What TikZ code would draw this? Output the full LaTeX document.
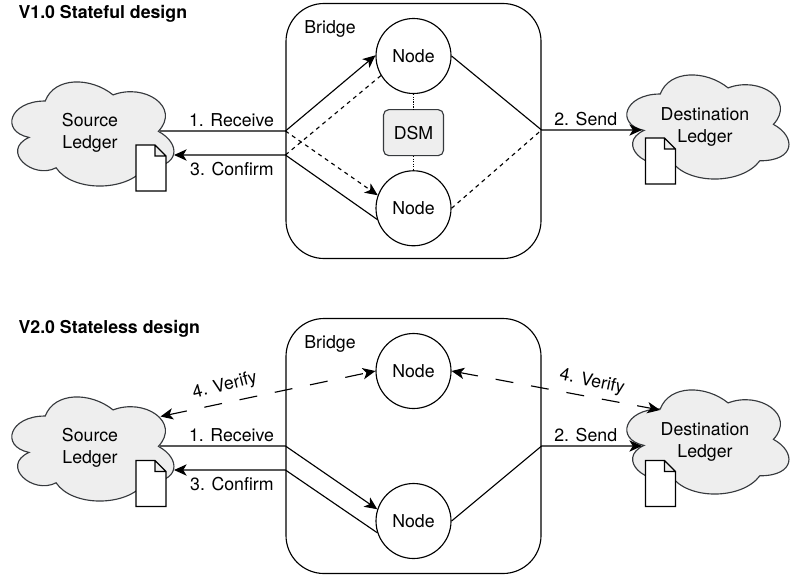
\documentclass[tikz,border=0pt]{standalone}
\usepackage{fontspec}
\setmainfont{TeX Gyre Heros}
\usepackage{xcolor}
\usetikzlibrary{positioning,arrows.meta,calc}
\definecolor{ledgerfill}{HTML}{EEEEEE}
\definecolor{ledgerline}{HTML}{36393D}
\newcommand{\ledgercloud}[2]{%
  \draw[cloudline, shift={(#1,#2)}] (45.25,30.4)
    .. controls (9.05,30.4) and (0,60.75) .. (29,66.8)
    .. controls (0,80.2) and (32.6,109.4) .. (56.1,97.2)
    .. controls (72.4,121.5) and (126.7,121.5) .. (144.8,97.2)
    .. controls (181,97.2) and (181,72.9) .. (158.4,60.75)
    .. controls (181,36.5) and (144.8,12.2) .. (113.1,24.3)
    .. controls (90.5,6.1) and (54.3,6.1) .. (45.25,30.4) -- cycle;}
\newcommand{\ledgerdoc}[2]{%
  \draw[docline, shift={(#1,#2)}] (0,0) -- (19,0) -- (30,11) -- (30,46) -- (0,46) -- cycle
    (19,0) -- (19,11) -- (30,11);}

\begin{document}
\begin{tikzpicture}[
  x=0.75pt, y=-0.75pt,
  font=\fontsize{13.3}{16.5}\selectfont,
  line width=0.85pt,
  cloudline/.style={draw=ledgerline, fill=ledgerfill},
  docline/.style={draw=black, fill=white, line join=miter},
  bridgebox/.style={draw, rounded corners=28.5pt, minimum width=191.25pt, minimum height=191.25pt},
  nodecirc/.style={draw, circle, fill=white, minimum size=56.25pt, inner sep=0pt},
  dsmbox/.style={draw=ledgerline, fill=ledgerfill, rounded corners=4pt, minimum width=45pt, minimum height=34.5pt, inner sep=0pt},
  lbl/.style={align=center, inner sep=0pt},
  title/.style={font=\fontsize{13.3}{16.5}\selectfont\bfseries, anchor=west, inner sep=0pt},
  arr/.style={-{Stealth[length=9.5pt, width=8.5pt, inset=2.6pt]}},
  dasharr/.style={arr, dash pattern=on 3pt off 3pt},
  dashln/.style={dash pattern=on 3pt off 3pt},
  verifyarr/.style={{Stealth[length=9.5pt, width=8.5pt, inset=2.6pt]}-{Stealth[length=9.5pt, width=8.5pt, inset=2.6pt]}, dash pattern=on 13.5pt off 13.5pt}
]
\useasboundingbox (0,0) rectangle (798,575);

\node[title] (titlea) at (18,14) {V1.0 Stateful design};
\ledgercloud{0}{70.6}
\ledgercloud{615}{63.6}
\node[bridgebox] (bridgea) at (413.5,131) {};
\node[lbl] (bridgelbla) at (330,28.5) {Bridge};
\node[nodecirc] (na) at (413.5,56) {Node};
\node[dsmbox, below=11.25pt of na] (dsm) {DSM};
\node[nodecirc, below=10.5pt of dsm] (nb) {Node};
\node[lbl] (srca) at (90,133) {Source\\Ledger};
\node[lbl] (dsta) at (705,127) {Destination\\Ledger};
\ledgerdoc{136}{145}
\ledgerdoc{645.5}{138}

\coordinate (srcouta) at (160,131);
\coordinate (srcina) at (174,155);
\coordinate (dstina) at (642,130);
\coordinate (recva) at (bridgea.west |- srcouta);
\coordinate (confa) at (bridgea.west |- srcina);
\coordinate (senda) at (bridgea.east |- dstina);

\draw[densely dotted] (na) -- (dsm);
\draw[densely dotted] (dsm) -- (nb);
\draw[arr] (srcouta) -- (recva) -- (na.179);
\draw[dasharr] (recva) -- (nb.160);
\draw[arr] (nb.197) -- (confa) -- (srcina);
\draw[dashln] (na.211) -- (confa);
\draw[arr] (na.east) -- (senda) -- (dstina);
\draw[dashln] (nb.east) -- (senda);
\node[lbl, above=2.8pt of $(srcouta)!0.57!(recva)$] (recvlbla) {1. Receive};
\node[lbl, below=5pt of $(srcina)!0.52!(confa)$] (conflbla) {3. Confirm};
\node[lbl, above=2.8pt of $(senda)!0.44!(dstina)$] (sendlbla) {2. Send};

\node[title] (titleb) at (18,329) {V2.0 Stateless design};
\ledgercloud{0}{385.6}
\ledgercloud{615}{378.6}
\node[bridgebox] (bridgeb) at (413.5,446) {};
\node[lbl] (bridgelblb) at (330,343.5) {Bridge};
\node[nodecirc] (nc) at (413.5,371) {Node};
\node[nodecirc] (nd) at (413.5,521) {Node};
\node[lbl] (srcb) at (90,448) {Source\\Ledger};
\node[lbl] (dstb) at (705,442) {Destination\\Ledger};
\ledgerdoc{136}{460.5}
\ledgerdoc{645.5}{460.5}

\coordinate (srcoutb) at (160,446);
\coordinate (srcinb) at (174,470);
\coordinate (dstinb) at (642,446);
\coordinate (verl) at (160.5,416.5);
\coordinate (verr) at (660,410);
\coordinate (recvb) at (bridgeb.west |- srcoutb);
\coordinate (confb) at (bridgeb.west |- srcinb);
\coordinate (sendb) at (bridgeb.east |- dstinb);

\draw[arr] (srcoutb) -- (recvb) -- (nd.162);
\draw[arr] (nd.198) -- (confb) -- (srcinb);
\draw[arr] (nd.east) -- (sendb) -- (dstinb);
\draw[verifyarr] (verl) -- (nc.west);
\draw[verifyarr] (nc.east) -- (verr);
\node[lbl, above=2.8pt of $(srcoutb)!0.57!(recvb)$] (recvlblb) {1. Receive};
\node[lbl, below=5pt of $(srcinb)!0.52!(confb)$] (conflblb) {3. Confirm};
\node[lbl, above=2.8pt of $(sendb)!0.44!(dstinb)$] (sendlblb) {2. Send};
\node[lbl, rotate=14] (verlbla) at (225,386) {4. Verify};
\node[lbl, rotate=-12] (verlblb) at (592,382) {4. Verify};
\end{tikzpicture}
\end{document}
